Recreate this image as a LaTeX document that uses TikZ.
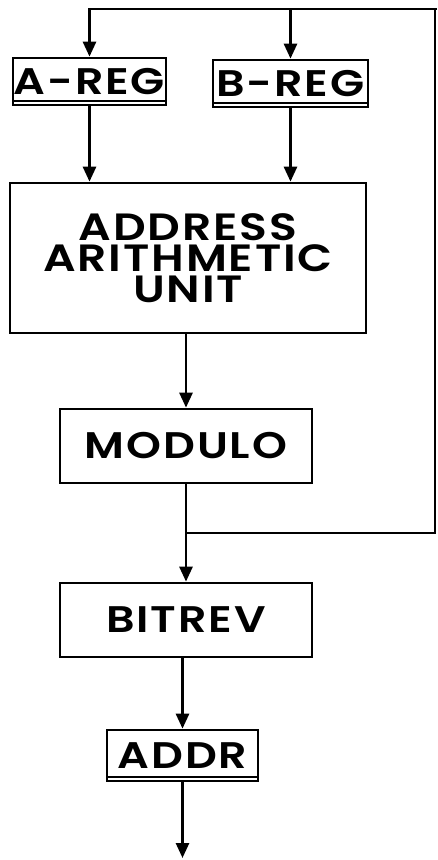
\documentclass[tikz,border=0pt]{standalone}
\usepackage{fontspec}
\setmainfont{Poppins}[BoldFont={Poppins SemiBold}]
\newfontfamily\boxfont{Poppins SemiBold}[FakeStretch=1.2,LetterSpace=5]
\usetikzlibrary{arrows.meta}
\begin{document}
\begin{tikzpicture}[x=1pt,y=-1pt,
  line width=2.7pt,
  box/.style={draw, rectangle, inner sep=0pt, align=center,
    font=\boxfont\fontsize{37}{30}\selectfont},
  reg/.style={box, path picture={\draw[line width=2pt]
    ([yshift=4pt]path picture bounding box.south west) --
    ([yshift=4pt]path picture bounding box.south east);}},
  arr/.style={-{Triangle[width=13pt,length=15pt]}}]
\useasboundingbox (0,0) rectangle (437,860);
\node[reg, minimum width=153pt, minimum height=47pt] (areg) at (89.5,81.5) {A-REG};
\node[reg, minimum width=155pt, minimum height=47pt] (breg) at (290.5,83.5) {B-REG};
\node[box, minimum width=356pt, minimum height=150pt,
  font=\boxfont\fontsize{38}{31}\selectfont] (aau) at (188,258) {ADDRESS\\ARITHMETIC\\UNIT};
\node[box, minimum width=252pt, minimum height=74pt] (mod) at (186,446) {MODULO};
\node[box, minimum width=252pt, minimum height=74pt] (bit) at (186,620) {BITREV};
\node[reg, minimum width=151pt, minimum height=51pt] (addr) at (182.5,755.5) {ADDR};
\coordinate (j) at (186,533);
\coordinate (fr) at (435,533);
\coordinate (tr) at (435,9);
\coordinate (tre) at (437,9);
\coordinate (tl) at (areg.north |- tr);
\coordinate (tb) at (breg.north |- tr);
\coordinate (out) at (182.5,858);
\draw[arr] (tre) -- (tl) -- (areg.north);
\draw[arr] (tb) -- (breg.north);
\draw (j) -- (fr) -- (tr);
\draw[arr] (areg.south) -- (areg.south |- aau.north);
\draw[arr] (breg.south) -- (breg.south |- aau.north);
\draw[arr] (mod.north |- aau.south) -- (mod.north);
\draw[arr] (mod.south) -- (bit.north);
\draw[arr] (addr.north |- bit.south) -- (addr.north);
\draw[arr] (addr.south) -- (out);
\end{tikzpicture}
\end{document}
